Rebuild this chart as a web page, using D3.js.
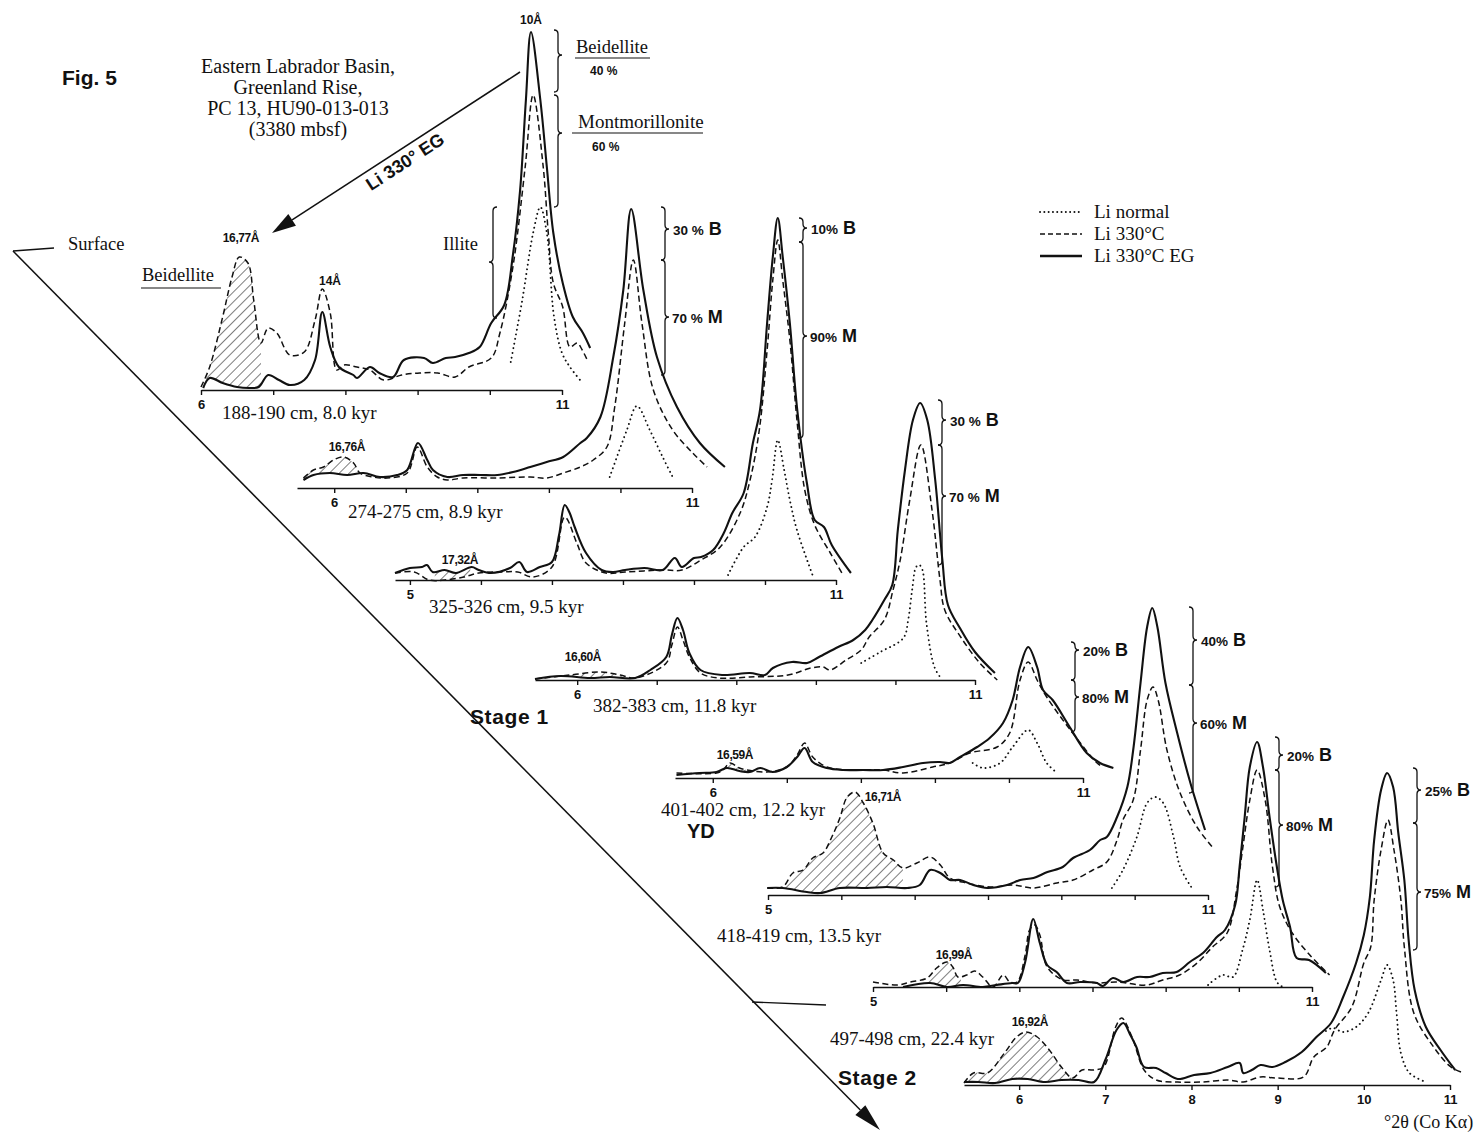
<!DOCTYPE html>
<html>
<head>
<meta charset="utf-8">
<script src="https://cdn.jsdelivr.net/npm/d3@7"></script>
<style>
  body { margin: 0; background: #fff; }
  svg text { fill: #111; }
</style>
</head>
<body>
<svg id="fig" width="1477" height="1133"></svg>
<script>
// ---------------------------------------------------------------
// XRD traces of the <2 µm fraction, core PC 13 (HU90-013-013).
// Each series: [°2θ (Co Kα), intensity (relative counts)].
// normal = Li-saturated, heated = Li 330°C, glycol = Li 330°C + EG
// ---------------------------------------------------------------
const sampleNames = [
  "188-190 cm, 8.0 kyr", "274-275 cm, 8.9 kyr", "325-326 cm, 9.5 kyr",
  "382-383 cm, 11.8 kyr", "401-402 cm, 12.2 kyr", "418-419 cm, 13.5 kyr",
  "497-498 cm, 22.4 kyr", ""
];
const basalSpacing = ["16,77", "16,76", "17,32", "16,60", "16,59", "16,71", "16,99", "16,92"];
const beidellitePct = [40, 30, 10, 30, 20, 40, 20, 25];
const montmorillonitePct = [60, 70, 90, 70, 80, 60, 80, 75];

const s188_normal = [[10.29,28],[10.45,90],[10.60,157],[10.70,183],[10.79,157],[10.89,73],[11.00,37],[11.11,23],[11.25,10]];
const s188_heated = [[6.00,3],[6.12,23],[6.30,73],[6.43,113],[6.53,133],[6.65,127],[6.73,90],[6.83,47],[6.93,62],[7.05,57],[7.23,35],[7.43,38],[7.58,70],[7.68,101],[7.79,77],[7.88,20],[7.98,25],[8.16,23],[8.34,20],[8.53,10],[8.78,15],[9.03,17],[9.28,17],[9.52,13],[9.71,23],[10.02,32],[10.14,57],[10.32,123],[10.49,223],[10.60,295],[10.74,223],[10.81,157],[10.88,107],[11.01,83],[11.11,43],[11.21,47],[11.28,40],[11.35,30]];
const s188_glycol = [[6.03,2],[6.12,12],[6.30,7],[6.50,3],[6.68,2],[6.80,3],[6.93,15],[7.08,10],[7.23,5],[7.43,10],[7.58,30],[7.68,78],[7.79,43],[7.91,23],[8.11,15],[8.16,12],[8.34,23],[8.47,17],[8.66,13],[8.81,30],[9.09,32],[9.21,27],[9.39,32],[9.52,33],[9.71,37],[9.86,43],[10.02,67],[10.20,85],[10.32,135],[10.42,200],[10.50,290],[10.57,358],[10.70,290],[10.79,223],[10.88,157],[11.01,107],[11.15,73],[11.29,57],[11.39,42]];

const s274_normal = [[9.85,11],[10.09,58],[10.23,82],[10.41,58],[10.59,31],[10.73,11]];
const s274_heated = [[5.57,10],[5.71,18],[5.85,21],[5.99,28],[6.13,31],[6.27,25],[6.36,15],[6.54,11],[6.74,10],[7.02,15],[7.16,41],[7.30,21],[7.44,11],[7.58,8],[7.80,10],[8.28,10],[8.74,11],[8.97,10],[9.20,15],[9.44,21],[9.62,28],[9.81,41],[9.92,81],[10.06,165],[10.18,228],[10.30,165],[10.46,98],[10.73,58],[11.01,35],[11.21,21]];
const s274_glycol = [[5.57,8],[5.71,13],[5.94,15],[6.18,13],[6.41,15],[6.64,11],[6.88,13],[7.02,18],[7.17,45],[7.30,28],[7.38,18],[7.58,11],[7.80,13],[8.04,13],[8.28,13],[8.50,16],[8.74,21],[8.97,26],[9.20,31],[9.44,45],[9.53,50],[9.72,71],[9.90,131],[10.04,198],[10.15,279],[10.32,198],[10.51,131],[10.79,81],[11.11,45],[11.46,21]];

const s325_normal = [[9.48,5],[9.70,33],[9.86,43],[10.03,73],[10.10,100],[10.18,140],[10.27,110],[10.35,80],[10.45,50],[10.68,3]];
const s325_heated = [[4.79,7],[5.06,8],[5.27,0],[5.49,0],[5.76,3],[5.97,7],[6.30,8],[6.52,8],[6.73,3],[7.00,13],[7.18,63],[7.35,37],[7.48,17],[7.76,7],[8.03,8],[8.56,10],[8.83,10],[9.10,20],[9.37,33],[9.65,67],[9.79,100],[9.92,150],[10.03,230],[10.11,300],[10.18,340],[10.25,300],[10.35,240],[10.45,160],[10.56,90],[10.70,55],[10.92,27],[11.10,5]];
const s325_glycol = [[4.79,7],[5.00,12],[5.17,13],[5.24,15],[5.32,8],[5.49,10],[5.65,7],[5.87,13],[5.97,10],[6.14,7],[6.41,12],[6.54,18],[6.65,8],[6.83,13],[7.00,18],[7.10,45],[7.18,75],[7.25,67],[7.32,53],[7.48,27],[7.70,10],[7.86,8],[8.03,10],[8.30,12],[8.56,10],[8.73,22],[8.83,13],[9.00,22],[9.10,23],[9.27,30],[9.42,47],[9.54,67],[9.70,87],[9.83,137],[9.93,170],[10.03,257],[10.11,323],[10.18,362],[10.25,323],[10.35,257],[10.45,173],[10.59,97],[10.70,60],[10.83,53],[10.94,35],[11.21,7]];

const s382_normal = [[9.57,17],[9.81,28],[10.10,42],[10.16,60],[10.21,90],[10.26,113],[10.30,115],[10.34,110],[10.39,57],[10.49,13],[10.57,2]];
const s382_heated = [[5.47,1],[5.91,5],[6.29,8],[6.54,5],[6.73,2],[7.12,17],[7.19,35],[7.26,53],[7.33,40],[7.41,23],[7.55,7],[7.78,2],[8.17,3],[8.65,5],[8.94,12],[9.09,13],[9.18,10],[9.38,20],[9.57,30],[9.67,43],[9.86,60],[9.97,90],[10.06,120],[10.18,180],[10.32,235],[10.46,170],[10.56,100],[10.62,70],[10.82,43],[11.06,17],[11.28,0]];
const s382_glycol = [[5.47,1],[5.79,4],[6.16,2],[6.41,3],[6.73,2],[6.92,10],[7.12,23],[7.19,45],[7.26,62],[7.33,50],[7.41,27],[7.55,10],[7.83,5],[8.17,7],[8.36,5],[8.46,12],[8.70,18],[8.89,17],[9.04,23],[9.28,33],[9.47,40],[9.62,50],[9.71,60],[9.86,80],[9.96,95],[10.03,150],[10.12,210],[10.22,260],[10.31,277],[10.40,260],[10.50,200],[10.59,120],[10.66,75],[10.81,52],[11.00,28],[11.25,7]];

const s401_normal = [[9.51,15],[9.65,10],[9.88,15],[10.05,31],[10.26,48],[10.38,35],[10.51,15],[10.65,5]];
const s401_heated = [[5.51,5],[6.05,5],[6.14,8],[6.23,15],[6.36,10],[6.46,8],[6.73,6],[7.00,11],[7.14,23],[7.24,35],[7.35,21],[7.54,11],[7.85,8],[8.30,8],[8.57,5],[8.97,11],[9.20,15],[9.47,25],[9.84,31],[10.01,45],[10.15,98],[10.26,116],[10.38,98],[10.51,81],[10.86,45],[11.19,15],[11.27,11]];
const s401_glycol = [[5.51,3],[5.82,5],[6.05,6],[6.19,10],[6.36,7],[6.50,6],[6.64,10],[6.81,6],[7.00,11],[7.14,21],[7.24,30],[7.35,16],[7.54,10],[7.76,8],[8.03,8],[8.30,8],[8.57,11],[8.84,15],[9.07,16],[9.20,15],[9.34,21],[9.57,31],[9.74,40],[9.92,55],[10.05,78],[10.15,111],[10.26,131],[10.38,111],[10.46,88],[10.59,78],[10.82,51],[11.05,25],[11.23,15],[11.41,10]];

const s418_normal = [[9.69,7],[9.84,25],[10.03,58],[10.17,92],[10.28,98],[10.39,92],[10.53,58],[10.62,28],[10.78,7]];
const s418_heated = [[4.99,7],[5.20,8],[5.34,22],[5.48,25],[5.61,37],[5.75,42],[5.87,58],[5.98,77],[6.08,98],[6.19,103],[6.30,92],[6.43,72],[6.57,42],[6.71,35],[6.84,27],[7.03,32],[7.21,38],[7.35,30],[7.48,17],[7.71,12],[8.03,8],[8.34,10],[8.62,7],[8.94,12],[9.16,15],[9.43,25],[9.62,33],[9.76,55],[9.84,75],[9.98,95],[10.08,145],[10.17,195],[10.25,208],[10.32,195],[10.44,145],[10.62,102],[10.85,68],[11.07,47]];
const s418_glycol = [[4.99,7],[5.20,7],[5.53,3],[5.71,2],[5.98,7],[6.35,7],[6.62,8],[6.90,7],[7.07,10],[7.21,25],[7.35,22],[7.48,15],[7.62,15],[7.80,10],[7.99,7],[8.26,10],[8.44,15],[8.62,17],[8.81,23],[9.02,28],[9.16,37],[9.39,45],[9.53,55],[9.62,58],[9.76,78],[9.90,108],[9.98,145],[10.08,212],[10.17,268],[10.24,287],[10.31,268],[10.42,212],[10.58,162],[10.76,112],[10.96,65]];

const s497_normal = [[9.58,2],[9.78,12],[9.92,10],[10.05,37],[10.15,67],[10.25,107],[10.33,77],[10.42,37],[10.52,5],[10.60,0]];
const s497_heated = [[5.00,5],[5.33,2],[5.51,5],[5.74,9],[5.87,19],[6.01,25],[6.09,20],[6.16,10],[6.28,12],[6.39,16],[6.50,10],[6.64,0],[6.78,12],[6.87,5],[6.97,5],[7.08,32],[7.14,57],[7.21,62],[7.28,52],[7.38,20],[7.60,7],[7.79,7],[8.06,4],[8.33,5],[8.74,2],[8.96,7],[9.19,12],[9.43,24],[9.64,40],[9.84,54],[9.97,97],[10.05,137],[10.15,187],[10.25,217],[10.36,187],[10.46,120],[10.56,80],[10.73,54],[10.97,32],[11.24,12]];
const s497_glycol = [[5.41,0],[5.78,4],[6.01,0],[6.23,2],[6.50,0],[6.69,2],[6.90,4],[6.98,4],[7.08,25],[7.19,68],[7.28,44],[7.38,22],[7.51,15],[7.65,4],[7.83,5],[8.06,4],[8.14,1],[8.28,9],[8.42,5],[8.61,10],[8.78,10],[8.96,14],[9.15,15],[9.33,25],[9.51,34],[9.70,50],[9.81,57],[9.95,82],[10.01,120],[10.08,170],[10.15,220],[10.25,245],[10.33,220],[10.42,170],[10.52,120],[10.60,87],[10.70,60],[10.79,29],[10.96,27],[11.19,14]];

const s520_normal = [[9.56,54],[9.64,57],[9.76,53],[9.91,58],[10.05,72],[10.20,105],[10.27,120],[10.34,105],[10.38,72],[10.43,32],[10.53,12],[10.72,3]];
const s520_heated = [[5.36,2],[5.47,12],[5.63,12],[5.83,32],[5.97,48],[6.08,53],[6.21,48],[6.35,35],[6.49,18],[6.62,7],[6.73,15],[6.87,15],[6.98,18],[7.12,58],[7.19,67],[7.31,48],[7.45,15],[7.59,5],[7.84,3],[8.13,3],[8.42,5],[8.60,3],[8.80,8],[8.99,7],[9.30,8],[9.42,28],[9.57,38],[9.66,55],[9.86,78],[10.00,122],[10.08,138],[10.12,185],[10.20,235],[10.28,265],[10.35,235],[10.43,185],[10.47,138],[10.58,72],[10.81,38],[11.01,18],[11.13,13]];
const s520_glycol = [[5.36,3],[5.53,3],[5.72,2],[5.92,6],[6.10,6],[6.30,3],[6.49,5],[6.69,5],[6.87,3],[7.00,25],[7.13,55],[7.21,62],[7.29,50],[7.36,38],[7.45,18],[7.59,17],[7.70,12],[7.84,6],[8.03,10],[8.22,12],[8.42,18],[8.56,22],[8.60,12],[8.70,15],[8.80,20],[8.94,18],[9.09,23],[9.28,33],[9.45,48],[9.62,62],[9.76,88],[9.91,122],[10.00,150],[10.07,188],[10.12,245],[10.20,295],[10.27,312],[10.34,298],[10.40,252],[10.47,205],[10.52,145],[10.59,95],[10.72,58],[10.89,35],[11.06,15]];

// °2θ windows of the hatched (beidellite) reflection
const hatchRanges = [[6.07,6.83],[5.57,6.36],[5.35,5.85],[5.47,6.73],[6.02,6.50],[5.20,6.84],[5.75,6.20],[5.40,6.62]];

const normals = [s188_normal, s274_normal, s325_normal, s382_normal, s401_normal, s418_normal, s497_normal, s520_normal];
const heateds = [s188_heated, s274_heated, s325_heated, s382_heated, s401_heated, s418_heated, s497_heated, s520_heated];
const glycols = [s188_glycol, s274_glycol, s325_glycol, s382_glycol, s401_glycol, s418_glycol, s497_glycol, s520_glycol];

const siteLines = ["Eastern Labrador Basin,", "Greenland Rise,", "PC 13, HU90-013-013", "(3380 mbsf)"];
const legendItems = ["Li normal", "Li 330°C", "Li 330°C EG"];

// ---------------- layout of the stacked panels ----------------
const layout = [
  { axisY: 390,  xLo: 201,  x11: 562,  lo: 6,    ticks: [6,7,8,9,10,11],    shown: [6,11],
    name: [222, 419], peak: [241, 242], brace: null },
  { axisY: 488,  xLo: 297,  x11: 692,  lo: 5.48, ticks: [6,7,8,9,10,11],    shown: [6,11],
    name: [348, 518], peak: [347, 451], brace: [665, 207, 229, 260, 317, 375], gap: " " },
  { axisY: 580,  xLo: 395,  x11: 836,  lo: 4.79, ticks: [5,6,7,8,9,10,11],  shown: [5,11],
    name: [429, 613], peak: [460, 564], brace: [803, 218, 228, 242, 336, 438], gap: "" },
  { axisY: 680,  xLo: 535,  x11: 975,  lo: 5.47, ticks: [6,7,8,9,10,11],    shown: [6,11],
    name: [593, 712], peak: [583, 661], brace: [942, 400, 420, 445, 496, 565], gap: " " },
  { axisY: 778,  xLo: 675,  x11: 1083, lo: 5.49, ticks: [6,7,8,9,10,11],    shown: [6,11],
    name: [661, 816], peak: [735, 759], brace: [1075, 642, 650, 680, 697, 732], gap: "" },
  { axisY: 895,  xLo: 768,  x11: 1208, lo: 5,    ticks: [5,6,7,8,9,10,11],  shown: [5,11],
    name: [717, 942], peak: [883, 801], brace: [1193, 607, 640, 685, 723, 793], gap: "" },
  { axisY: 987,  xLo: 873,  x11: 1312, lo: 5,    ticks: [5,6,7,8,9,10,11],  shown: [5,11],
    name: [830, 1045], peak: [954, 959], brace: [1279, 737, 755, 770, 825, 887], gap: "" },
  { axisY: 1085, xLo: 964,  x11: 1450, lo: 5.36, ticks: [6,7,8,9,10,11],    shown: [6,7,8,9,10,11],
    name: [0, 0], peak: [1030, 1026], brace: [1417, 768, 790, 823, 892, 950], gap: "" }
];

const SERIF = "'Liberation Serif','DejaVu Serif',serif";
const SANS = "'Liberation Sans','DejaVu Sans',sans-serif";

const svg = d3.select("#fig");
const defs = svg.append("defs");

// diagonal hatching for the beidellite reflection
const pat = defs.append("pattern")
  .attr("id", "hatch").attr("patternUnits", "userSpaceOnUse")
  .attr("width", 7).attr("height", 7).attr("patternTransform", "rotate(45)");
pat.append("line").attr("x1", 0).attr("y1", -1).attr("x2", 0).attr("y2", 8)
  .attr("stroke", "#111").attr("stroke-width", 1.1);

// curly brace: top at y1, tip at yt, bottom at y2; dir 1 = tip to the right
function bracePath(x, y1, yt, y2, dir) {
  const c = 4 * dir;
  return `M${x - c},${y1} Q${x},${y1} ${x},${y1 + 4} L${x},${yt - 4} ` +
         `Q${x},${yt} ${x + c},${yt} Q${x},${yt} ${x},${yt + 4} ` +
         `L${x},${y2 - 4} Q${x},${y2} ${x - c},${y2}`;
}

function arrowHead(g, x1, y1, x2, y2, len, half) {
  const dx = x2 - x1, dy = y2 - y1, L = Math.hypot(dx, dy);
  const ux = dx / L, uy = dy / L, px = -uy, py = ux;
  const bx = x2 - ux * len, by = y2 - uy * len;
  g.append("path")
    .attr("d", `M${x2},${y2} L${bx + px * half},${by + py * half} L${bx - px * half},${by - py * half} Z`)
    .attr("fill", "#111");
  g.append("line").attr("x1", x1).attr("y1", y1).attr("x2", bx).attr("y2", by)
    .attr("stroke", "#111").attr("stroke-width", 1.5);
}

// ---------------- panels ----------------
layout.forEach((p, i) => {
  const g = svg.append("g").attr("class", "panel");
  const x = d3.scaleLinear().domain([p.lo, 11]).range([p.xLo, p.x11]);
  const y = d3.scaleLinear().domain([0, 400]).range([p.axisY, p.axisY - 400]);
  const line = d3.line().x(d => x(d[0])).y(d => y(d[1])).curve(d3.curveCatmullRom.alpha(0.5));

  // hatched area between heated and glycolated traces
  const h = hatchRanges[i];
  const clipId = "hclip" + i;
  defs.append("clipPath").attr("id", clipId).append("rect")
    .attr("x", x(h[0])).attr("y", p.axisY - 400)
    .attr("width", x(h[1]) - x(h[0])).attr("height", 400);
  const band = line(heateds[i]) + line(glycols[i].slice().reverse()).replace(/^M/, "L") + "Z";
  g.append("path").attr("d", band).attr("fill", "url(#hatch)")
    .attr("fill-rule", "evenodd").attr("clip-path", `url(#${clipId})`);

  // traces
  g.append("path").attr("d", line(normals[i])).attr("fill", "none")
    .attr("stroke", "#111").attr("stroke-width", 1.9)
    .attr("stroke-dasharray", "0.1 4.6").attr("stroke-linecap", "round");
  g.append("path").attr("d", line(heateds[i])).attr("fill", "none")
    .attr("stroke", "#111").attr("stroke-width", 1.5).attr("stroke-dasharray", "6 3.5");
  g.append("path").attr("d", line(glycols[i])).attr("fill", "none")
    .attr("stroke", "#111").attr("stroke-width", 2.1).attr("stroke-linejoin", "round");

  // °2θ axis
  const axis = d3.axisBottom(x).tickValues(p.ticks).tickSize(5).tickSizeOuter(0).tickPadding(5)
    .tickFormat(v => p.shown.includes(v) ? String(v) : "");
  const ag = g.append("g").attr("transform", `translate(0,${p.axisY})`).call(axis);
  ag.select(".domain").attr("stroke", "#111").attr("stroke-width", 1.6);
  ag.selectAll(".tick line").attr("stroke", "#111").attr("stroke-width", 1.4);
  ag.selectAll(".tick text").attr("font-family", SANS).attr("font-weight", "bold")
    .attr("font-size", 13).attr("fill", "#111");

  // sample label
  if (sampleNames[i]) {
    g.append("text").attr("x", p.name[0]).attr("y", p.name[1])
      .attr("font-family", SERIF).attr("font-size", 19).text(sampleNames[i]);
  }
  // basal spacing of the beidellite peak
  g.append("text").attr("x", p.peak[0]).attr("y", p.peak[1]).attr("text-anchor", "middle")
    .attr("font-family", SANS).attr("font-weight", "bold").attr("font-size", 12)
    .attr("letter-spacing", -0.4).text(basalSpacing[i] + "Å");

  // beidellite / montmorillonite proportions
  if (p.brace) {
    const [bx, y1, tB, ys, tM, y2] = p.brace;
    g.append("path").attr("d", bracePath(bx, y1, tB, ys, 1)).attr("fill", "none")
      .attr("stroke", "#111").attr("stroke-width", 1.3);
    g.append("path").attr("d", bracePath(bx, ys, tM, y2, 1)).attr("fill", "none")
      .attr("stroke", "#111").attr("stroke-width", 1.3);
    const tb = g.append("text").attr("x", bx + 8).attr("y", tB + 6)
      .attr("font-family", SANS).attr("font-weight", "bold").attr("font-size", 13.5);
    tb.append("tspan").text(beidellitePct[i] + p.gap + "%");
    tb.append("tspan").attr("font-size", 18).text(" B");
    const tm = g.append("text").attr("x", bx + 7).attr("y", tM + 6)
      .attr("font-family", SANS).attr("font-weight", "bold").attr("font-size", 13.5);
    tm.append("tspan").text(montmorillonitePct[i] + p.gap + "%");
    tm.append("tspan").attr("font-size", 18).text(" M");
  }
});

// ---------------- annotations of the uppermost sample ----------------
const ann = svg.append("g");
ann.append("text").attr("x", 531).attr("y", 24).attr("text-anchor", "middle")
  .attr("font-family", SANS).attr("font-weight", "bold").attr("font-size", 12).text("10Å");
ann.append("text").attr("x", 330).attr("y", 285).attr("text-anchor", "middle")
  .attr("font-family", SANS).attr("font-weight", "bold").attr("font-size", 12).text("14Å");

ann.append("path").attr("d", bracePath(558, 30, 55, 92, 1)).attr("fill", "none")
  .attr("stroke", "#111").attr("stroke-width", 1.3);
ann.append("path").attr("d", bracePath(558, 95, 133, 207, 1)).attr("fill", "none")
  .attr("stroke", "#111").attr("stroke-width", 1.3);
ann.append("path").attr("d", bracePath(493, 207, 262, 318, -1)).attr("fill", "none")
  .attr("stroke", "#111").attr("stroke-width", 1.3);

ann.append("text").attr("x", 576).attr("y", 53).attr("font-family", SERIF).attr("font-size", 18.5).text("Beidellite");
ann.append("line").attr("x1", 575).attr("x2", 650).attr("y1", 58).attr("y2", 58).attr("stroke", "#111").attr("stroke-width", 1.2);
ann.append("text").attr("x", 590).attr("y", 75).attr("font-family", SANS).attr("font-weight", "bold")
  .attr("font-size", 12).text(beidellitePct[0] + " %");
ann.append("text").attr("x", 578).attr("y", 128).attr("font-family", SERIF).attr("font-size", 19).text("Montmorillonite");
ann.append("line").attr("x1", 572).attr("x2", 703).attr("y1", 133).attr("y2", 133).attr("stroke", "#111").attr("stroke-width", 1.2);
ann.append("text").attr("x", 592).attr("y", 151).attr("font-family", SANS).attr("font-weight", "bold")
  .attr("font-size", 12).text(montmorillonitePct[0] + " %");

ann.append("text").attr("x", 443).attr("y", 250).attr("font-family", SERIF).attr("font-size", 18.5).text("Illite");
ann.append("text").attr("x", 142).attr("y", 281).attr("font-family", SERIF).attr("font-size", 18.5).text("Beidellite");
ann.append("line").attr("x1", 141).attr("x2", 221).attr("y1", 288).attr("y2", 288).attr("stroke", "#111").attr("stroke-width", 1.2);

// ---------------- header ----------------
svg.append("text").attr("x", 62).attr("y", 85).attr("font-family", SANS).attr("font-weight", "bold")
  .attr("font-size", 21).text("Fig. 5");
svg.append("g").selectAll("text").data(siteLines).join("text")
  .attr("x", 298).attr("y", (d, k) => 73 + k * 21).attr("text-anchor", "middle")
  .attr("font-family", SERIF).attr("font-size", 20).text(d => d);

// Li 330° EG arrow
const arr = svg.append("g");
arrowHead(arr, 520, 72, 272, 233, 24, 7);
const ang = Math.atan2(72 - 233, 520 - 272) * 180 / Math.PI;
arr.append("text").attr("transform", `translate(398,151) rotate(${ang})`)
  .attr("y", 19).attr("text-anchor", "middle").attr("font-family", SANS)
  .attr("font-weight", "bold").attr("font-size", 18).text("Li 330° EG");

// depth axis
const dep = svg.append("g");
arrowHead(dep, 13, 251, 880, 1130, 28, 7);
dep.append("line").attr("x1", 13).attr("y1", 251).attr("x2", 54).attr("y2", 248)
  .attr("stroke", "#111").attr("stroke-width", 1.5);
dep.append("line").attr("x1", 752).attr("y1", 1002).attr("x2", 826).attr("y2", 1005)
  .attr("stroke", "#111").attr("stroke-width", 1.3);
dep.append("text").attr("x", 68).attr("y", 250).attr("font-family", SERIF).attr("font-size", 18.5).text("Surface");
dep.append("text").attr("x", 470).attr("y", 724).attr("font-family", SANS).attr("font-weight", "bold")
  .attr("font-size", 21).attr("letter-spacing", 0.6).text("Stage 1");
dep.append("text").attr("x", 687).attr("y", 838).attr("font-family", SANS).attr("font-weight", "bold")
  .attr("font-size", 20).text("YD");
dep.append("text").attr("x", 838).attr("y", 1085).attr("font-family", SANS).attr("font-weight", "bold")
  .attr("font-size", 21).attr("letter-spacing", 0.6).text("Stage 2");

svg.append("text").attr("x", 1384).attr("y", 1128).attr("font-family", SERIF).attr("font-size", 18)
  .text("°2θ (Co Kα)");

// ---------------- legend ----------------
const leg = svg.append("g");
const legStyles = [
  { w: 1.9, dash: "0.1 4.2", cap: "round" },
  { w: 1.5, dash: "5 3", cap: "butt" },
  { w: 2.3, dash: null, cap: "butt" }
];
legendItems.forEach((t, k) => {
  const yy = 212 + k * 22;
  const s = legStyles[k];
  leg.append("line").attr("x1", 1040).attr("x2", 1082).attr("y1", yy).attr("y2", yy)
    .attr("stroke", "#111").attr("stroke-width", s.w)
    .attr("stroke-dasharray", s.dash).attr("stroke-linecap", s.cap);
  leg.append("text").attr("x", 1094).attr("y", yy + 6).attr("font-family", SERIF)
    .attr("font-size", 19).text(t);
});
</script>
</body>
</html>
